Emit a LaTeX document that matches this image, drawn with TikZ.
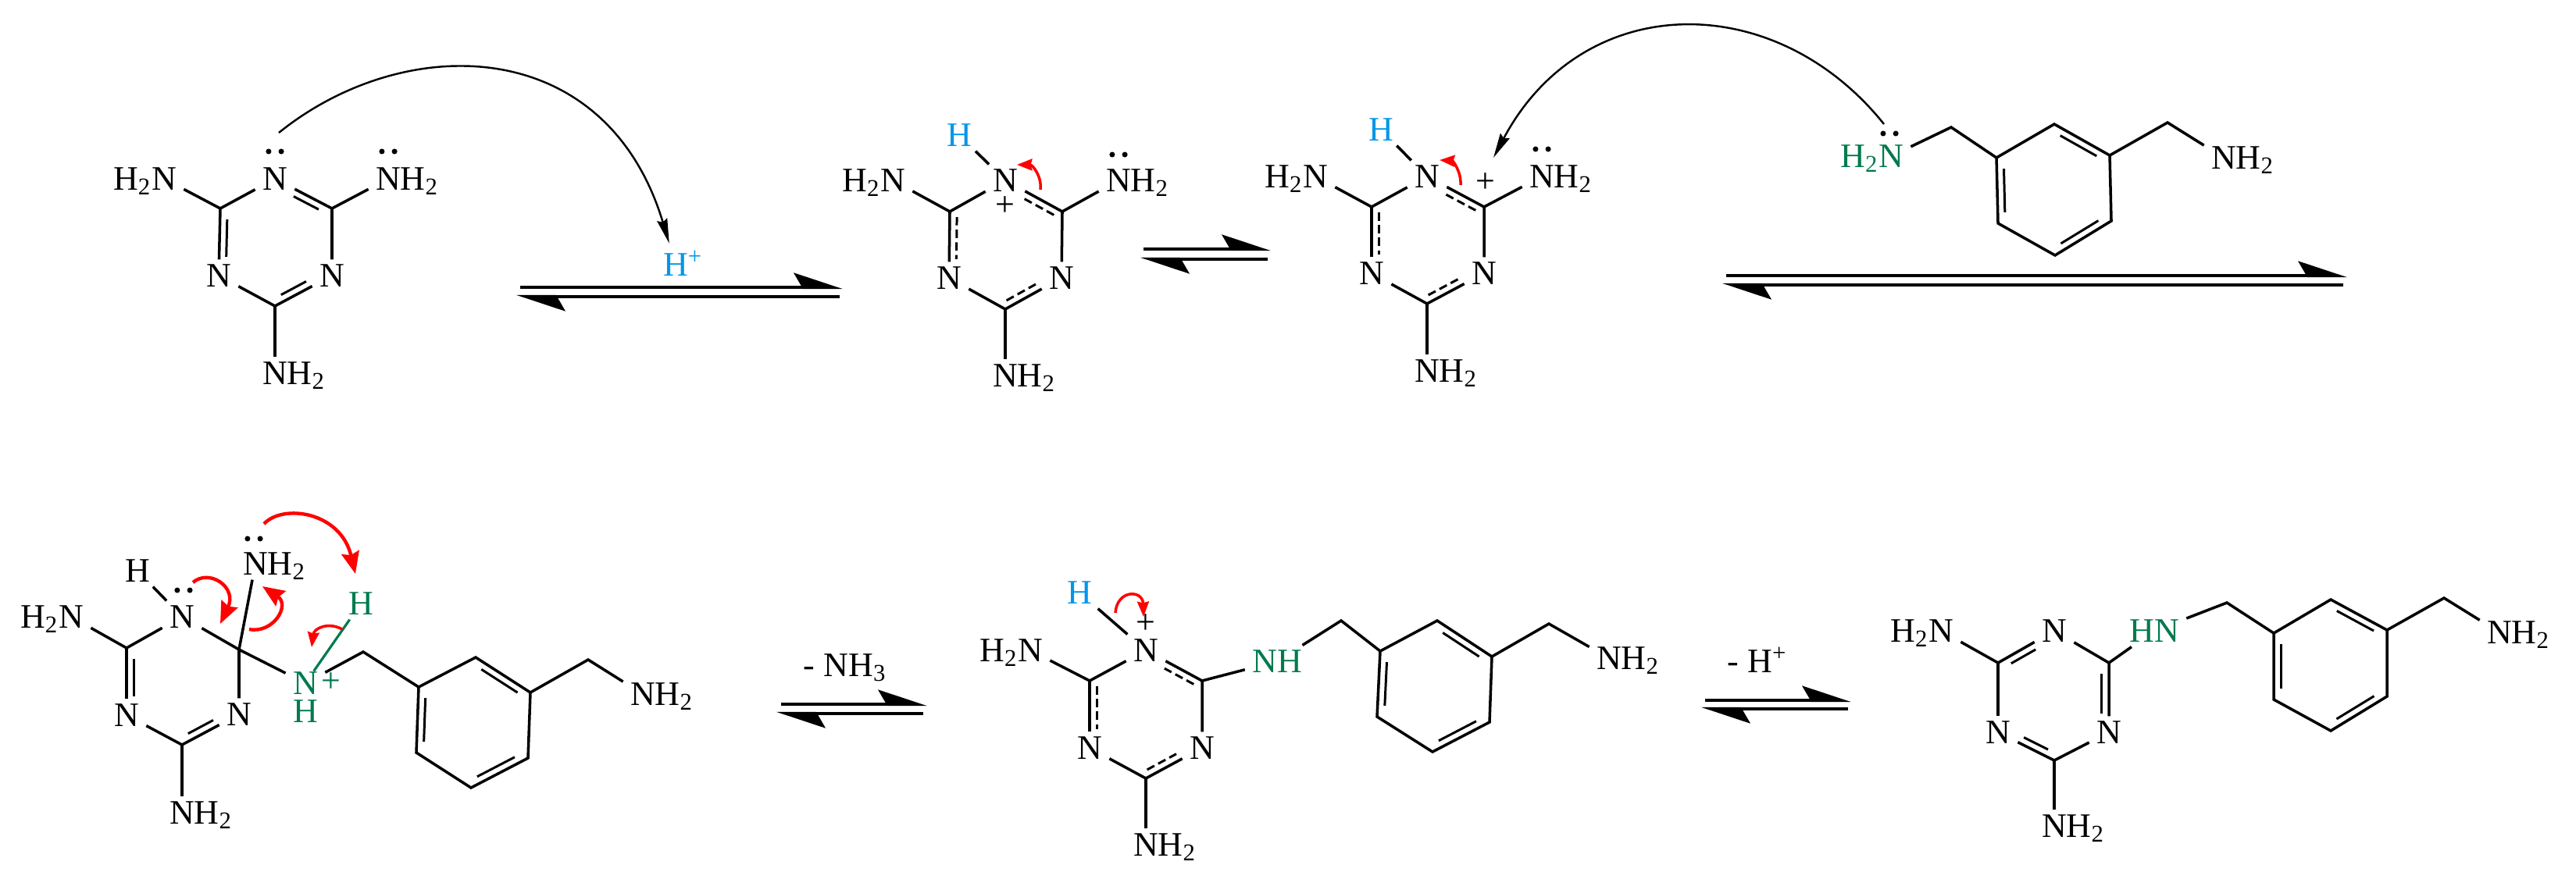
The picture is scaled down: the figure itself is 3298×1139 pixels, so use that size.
\documentclass[tikz,border=0pt]{standalone}
\usepackage{fontspec}
\setmainfont{Liberation Serif}
\usetikzlibrary{arrows.meta}
\definecolor{chemgreen}{RGB}{0,122,77}
\definecolor{chemblue}{RGB}{0,150,232}
\tikzstyle{atom} = [font=\fontsize{12.5}{15}\selectfont, inner xsep=2.5pt, inner ysep=1.5pt, text height=8.3pt, text depth=0pt]
\tikzstyle{charge} = [font=\fontsize{12.5}{15}\selectfont, inner sep=0pt]
\tikzstyle{greenatom} = [atom, text=chemgreen]
\tikzstyle{blueatom} = [atom, text=chemblue]
\tikzstyle{bond} = [line width=1pt]
\tikzstyle{greenbond} = [line width=0.9pt, draw=chemgreen]
\tikzstyle{inner} = [line width=0.85pt, shorten <=4pt, shorten >=1pt]
\tikzstyle{innerring} = [line width=0.85pt, shorten <=4pt, shorten >=4pt]
\tikzstyle{deloc} = [line width=0.85pt, dash pattern=on 3pt off 1.6pt, shorten <=2pt, shorten >=1pt]
\tikzstyle{inE} = [transform canvas={xshift=2.6pt}]
\tikzstyle{inW} = [transform canvas={xshift=-2.6pt}]
\tikzstyle{inSW} = [transform canvas={xshift=-1.3pt,yshift=-2.2pt}]
\tikzstyle{inSE} = [transform canvas={xshift=1.3pt,yshift=-2.2pt}]
\tikzstyle{inNW} = [transform canvas={xshift=-1.3pt,yshift=2.2pt}]
\tikzstyle{inNE} = [transform canvas={xshift=1.3pt,yshift=2.2pt}]
\tikzstyle{equil} = [line width=1.2pt, -{Stealth[harpoon,length=16pt,width=10.5pt,inset=3pt]}]
\tikzstyle{attack} = [line width=0.7pt, -{Stealth[length=9pt,width=3.8pt,inset=1pt]}]
\tikzstyle{redflow} = [draw=red, line width=1pt, -{Stealth[length=5.5pt,width=4.2pt,inset=0.5pt]}, red]
\tikzstyle{redbig} = [draw=red, line width=1.25pt, -{Stealth[length=8pt,width=6.5pt,inset=1pt]}, red]
\newcommand{\lonepair}[1]{\fill ([xshift=-2.3pt]#1) circle (1pt) ([xshift=2.3pt]#1) circle (1pt);}
\begin{document}
\begin{tikzpicture}[x=0.01cm, y=-0.01cm]

    \useasboundingbox (0,0) rectangle (3298,1139);

    \node (aN1) [atom] at (352,229) {N};
    \node (aN2) [atom] at (280,353) {N};
    \node (aN3) [atom] at (425,353) {N};
    \node (aH2N) [atom] at (210,229) {\llap{H\textsubscript{2}}N};
    \node (aNHr) [atom] at (497,229) {N\rlap{H\textsubscript{2}}};
    \node (aNHb) [atom] at (352,478) {N\rlap{H\textsubscript{2}}};
    \coordinate (aCl) at (282,267);
    \coordinate (aCr) at (425,267);
    \coordinate (aCb) at (352,392);
    \draw[bond] (aH2N) -- (aCl) -- (aN1);
    \draw[bond] (aN1) -- (aCr) -- (aN3);
    \draw[bond] (aCr) -- (aNHr);
    \draw[bond] (aCl) -- (aN2);
    \draw[bond] (aN2) -- (aCb) -- (aN3);
    \draw[bond] (aCb) -- (aNHb);
    \draw[inner, inSW] (aCr) -- (aN1);
    \draw[inner, inE] (aCl) -- (aN2);
    \draw[inner, inNW] (aCb) -- (aN3);
    \lonepair{352,194}
    \lonepair{497,194}

    \node (hplus) [blueatom] at (865,339) {H\rlap{\textsuperscript{+}}};
    \coordinate (aPair) at (357,170);
    \draw[attack, shorten >=2pt] (aPair) .. controls (518,40) and (776,43) .. (hplus);

    \coordinate (eqAa) at (666,368);
    \coordinate (eqAb) at (1079,368);
    \coordinate (eqAc) at (1075,380);
    \coordinate (eqAd) at (661,380);
    \draw[equil] (eqAa) -- (eqAb);
    \draw[equil] (eqAc) -- (eqAd);

    \node (bH) [blueatom] at (1228,173) {H};
    \node (bN1) [atom] at (1287,231) {N};
    \node (bN2) [atom] at (1215,356) {N};
    \node (bN3) [atom] at (1359,356) {N};
    \node (bH2N) [atom] at (1143,231) {\llap{H\textsubscript{2}}N};
    \node (bNHr) [atom] at (1432,231) {N\rlap{H\textsubscript{2}}};
    \node (bNHb) [atom] at (1287,481) {N\rlap{H\textsubscript{2}}};
    \node (bPlus) [charge] at (1287,264) {+};
    \coordinate (bCl) at (1216,271);
    \coordinate (bCr) at (1360,271);
    \coordinate (bCb) at (1287,396);
    \draw[bond] (bH) -- (bN1);
    \draw[bond] (bH2N) -- (bCl) -- (bN1);
    \draw[bond] (bN1) -- (bCr) -- (bN3);
    \draw[bond] (bCr) -- (bNHr);
    \draw[bond] (bCl) -- (bN2);
    \draw[bond] (bN2) -- (bCb) -- (bN3);
    \draw[bond] (bCb) -- (bNHb);
    \draw[deloc, inSW] (bCr) -- (bN1);
    \draw[deloc, inE] (bCl) -- (bN2);
    \draw[deloc, inNW] (bCb) -- (bN3);
    \lonepair{1432,198}
    \coordinate (bRedA) at (1332,243);
    \coordinate (bRedB) at (1302,211);
    \draw[redflow] (bRedA) .. controls (1334,226) and (1322,211) .. (bRedB);

    \coordinate (eqBa) at (1464,319);
    \coordinate (eqBb) at (1627,319);
    \coordinate (eqBc) at (1623,332);
    \coordinate (eqBd) at (1460,332);
    \draw[equil] (eqBa) -- (eqBb);
    \draw[equil] (eqBc) -- (eqBd);

    \node (cH) [blueatom] at (1768,166) {H};
    \node (cN1) [atom] at (1827,226) {N};
    \node (cN2) [atom] at (1756,350) {N};
    \node (cN3) [atom] at (1900,350) {N};
    \node (cH2N) [atom] at (1684,226) {\llap{H\textsubscript{2}}N};
    \node (cNHr) [atom] at (1974,226) {N\rlap{H\textsubscript{2}}};
    \node (cNHb) [atom] at (1827,475) {N\rlap{H\textsubscript{2}}};
    \node (cPlus) [charge] at (1902,234) {+};
    \coordinate (cCl) at (1756,265);
    \coordinate (cCr) at (1900,265);
    \coordinate (cCb) at (1827,389);
    \draw[bond] (cH) -- (cN1);
    \draw[bond] (cH2N) -- (cCl) -- (cN1);
    \draw[bond] (cN1) -- (cCr) -- (cN3);
    \draw[bond] (cCr) -- (cNHr);
    \draw[bond] (cCl) -- (cN2);
    \draw[bond] (cN2) -- (cCb) -- (cN3);
    \draw[bond] (cCb) -- (cNHb);
    \draw[deloc, inSW] (cCr) -- (cN1);
    \draw[deloc, inE] (cCl) -- (cN2);
    \draw[deloc, inNW] (cCb) -- (cN3);
    \lonepair{1974,191}
    \coordinate (cRedA) at (1870,237);
    \coordinate (cRedB) at (1843,205);
    \draw[redflow] (cRedA) .. controls (1871,220) and (1860,206) .. (cRedB);

    \node (dH2N) [greenatom] at (2421,200) {\llap{H\textsubscript{2}}N};
    \node (dNH) [atom] at (2847,202) {N\rlap{H\textsubscript{2}}};
    \coordinate (dCa) at (2498,163);
    \coordinate (dCb) at (2775,157);
    \coordinate (dR1) at (2556,202);
    \coordinate (dR2) at (2630,159);
    \coordinate (dR3) at (2701,199);
    \coordinate (dR4) at (2703,283);
    \coordinate (dR5) at (2631,327);
    \coordinate (dR6) at (2558,286);
    \draw[bond] (dH2N) -- (dCa) -- (dR1);
    \draw[bond] (dR3) -- (dCb) -- (dNH);
    \draw[bond] (dR1) -- (dR2) -- (dR3) -- (dR4) -- (dR5) -- (dR6) -- cycle;
    \draw[innerring, inSW] (dR2) -- (dR3);
    \draw[innerring, inE] (dR1) -- (dR6);
    \draw[innerring, inNW] (dR5) -- (dR4);
    \lonepair{2419,171}
    \coordinate (dPair) at (2412,159);
    \coordinate (cTip) at (1912,202);
    \draw[attack] (dPair) .. controls (2272,-16) and (2026,-13) .. (cTip);

    \coordinate (eqCa) at (2210,353);
    \coordinate (eqCb) at (3005,353);
    \coordinate (eqCc) at (3000,365);
    \coordinate (eqCd) at (2205,365);
    \draw[equil] (eqCa) -- (eqCb);
    \draw[equil] (eqCc) -- (eqCd);

    \node (eH) [atom] at (176,731) {H};
    \node (eN1) [atom] at (233,790) {N};
    \node (eN2) [atom] at (162,916) {N};
    \node (eN3) [atom] at (306,915) {N};
    \node (eH2N) [atom] at (91,790) {\llap{H\textsubscript{2}}N};
    \node (eNHb) [atom] at (233,1041) {N\rlap{H\textsubscript{2}}};
    \node (eNHt) [atom] at (327,722) {N\rlap{H\textsubscript{2}}};
    \node (eNg) [greenatom, inner ysep=0pt] at (391,875) {N};
    \node (ePlus) [charge, text=chemgreen] at (424,874) {+};
    \node (eHb) [greenatom, inner ysep=0pt] at (391,911) {H};
    \node (eHt) [greenatom] at (462,773) {H};
    \node (eNH) [atom] at (823,889) {N\rlap{H\textsubscript{2}}};
    \coordinate (eCl) at (162,830);
    \coordinate (eCr) at (306,832);
    \coordinate (eCb) at (233,954);
    \coordinate (eCa) at (465,835);
    \coordinate (eCc) at (753,845);
    \coordinate (eR1) at (536,880);
    \coordinate (eR2) at (609,842);
    \coordinate (eR3) at (679,887);
    \coordinate (eR4) at (676,971);
    \coordinate (eR5) at (603,1009);
    \coordinate (eR6) at (533,964);
    \draw[bond] (eH) -- (eN1);
    \draw[bond] (eH2N) -- (eCl) -- (eN1);
    \draw[bond] (eN1) -- (eCr) -- (eN3);
    \draw[bond] (eCr) -- (eNHt);
    \draw[bond] (eCr) -- (eNg);
    \draw[bond] (eCl) -- (eN2);
    \draw[bond] (eN2) -- (eCb) -- (eN3);
    \draw[bond] (eCb) -- (eNHb);
    \draw[greenbond] (eNg) -- (eHt);
    \draw[bond] (eNg) -- (eCa) -- (eR1);
    \draw[bond] (eR3) -- (eCc) -- (eNH);
    \draw[bond] (eR1) -- (eR2) -- (eR3) -- (eR4) -- (eR5) -- (eR6) -- cycle;
    \draw[inner, inE] (eCl) -- (eN2);
    \draw[inner, inNW] (eCb) -- (eN3);
    \draw[innerring, inSW] (eR2) -- (eR3);
    \draw[innerring, inE] (eR1) -- (eR6);
    \draw[innerring, inNW] (eR5) -- (eR4);
    \lonepair{235,756}
    \lonepair{325,690}
    \coordinate (eRedA) at (247,746);
    \coordinate (eRedB) at (282,799);
    \coordinate (eRedC) at (319,806);
    \coordinate (eRedD) at (336,751);
    \coordinate (eRedE) at (438,806);
    \coordinate (eRedF) at (399,829);
    \coordinate (eRedG) at (338,671);
    \coordinate (eRedH) at (455,735);
    \draw[redbig] (eRedA) .. controls (268,728) and (304,752) .. (eRedB);
    \draw[redbig] (eRedC) .. controls (350,812) and (372,775) .. (eRedD);
    \draw[redflow] (eRedE) .. controls (420,796) and (402,805) .. (eRedF);
    \draw[redbig] (eRedG) .. controls (362,645) and (436,655) .. (eRedH);

    \node (lossA) [atom] at (1082,852) {- NH\textsubscript{3}};
    \coordinate (eqDa) at (1000,902);
    \coordinate (eqDb) at (1187,902);
    \coordinate (eqDc) at (1182,914);
    \coordinate (eqDd) at (994,914);
    \draw[equil] (eqDa) -- (eqDb);
    \draw[equil] (eqDc) -- (eqDd);

    \node (fH) [blueatom] at (1382,759) {H};
    \node (fN1) [atom] at (1467,833) {N};
    \node (fN2) [atom] at (1395,958) {N};
    \node (fN3) [atom] at (1539,958) {N};
    \node (fH2N) [atom] at (1319,833) {\llap{H\textsubscript{2}}N};
    \node (fNHb) [atom] at (1467,1082) {N\rlap{H\textsubscript{2}}};
    \node (fPlus) [charge] at (1467,799) {+};
    \node (fNHg) [greenatom] at (1635,847) {NH};
    \node (fNH) [atom] at (2060,843) {N\rlap{H\textsubscript{2}}};
    \coordinate (fCl) at (1395,872);
    \coordinate (fCr) at (1539,872);
    \coordinate (fCb) at (1467,997);
    \coordinate (fCa) at (1717,795);
    \coordinate (fCc) at (1983,799);
    \coordinate (fR1) at (1767,834);
    \coordinate (fR2) at (1840,795);
    \coordinate (fR3) at (1910,841);
    \coordinate (fR4) at (1907,925);
    \coordinate (fR5) at (1834,963);
    \coordinate (fR6) at (1763,918);
    \draw[bond] (fH) -- (fN1);
    \draw[bond] (fH2N) -- (fCl) -- (fN1);
    \draw[bond] (fN1) -- (fCr) -- (fN3);
    \draw[bond] (fCr) -- (fNHg);
    \draw[bond] (fCl) -- (fN2);
    \draw[bond] (fN2) -- (fCb) -- (fN3);
    \draw[bond] (fCb) -- (fNHb);
    \draw[bond] (fNHg) -- (fCa) -- (fR1);
    \draw[bond] (fR3) -- (fCc) -- (fNH);
    \draw[bond] (fR1) -- (fR2) -- (fR3) -- (fR4) -- (fR5) -- (fR6) -- cycle;
    \draw[deloc, inSW] (fCr) -- (fN1);
    \draw[deloc, inE] (fCl) -- (fN2);
    \draw[deloc, inNW] (fCb) -- (fN3);
    \draw[innerring, inSW] (fR2) -- (fR3);
    \draw[innerring, inE] (fR1) -- (fR6);
    \draw[innerring, inNW] (fR5) -- (fR4);
    \coordinate (fRedA) at (1428,785);
    \coordinate (fRedB) at (1464,790);
    \draw[redflow] (fRedA) .. controls (1430,755) and (1463,755) .. (fRedB);

    \node (lossB) [atom] at (2250,847) {- H\textsuperscript{+}};
    \coordinate (eqEa) at (2183,897);
    \coordinate (eqEb) at (2370,897);
    \coordinate (eqEc) at (2366,908);
    \coordinate (eqEd) at (2178,908);
    \draw[equil] (eqEa) -- (eqEb);
    \draw[equil] (eqEc) -- (eqEd);

    \node (gN1) [atom] at (2630,808) {N};
    \node (gN2) [atom] at (2558,938) {N};
    \node (gN3) [atom] at (2700,938) {N};
    \node (gH2N) [atom] at (2485,808) {\llap{H\textsubscript{2}}N};
    \node (gNHb) [atom] at (2630,1058) {N\rlap{H\textsubscript{2}}};
    \node (gHN) [greenatom] at (2758,808) {HN};
    \node (gNH) [atom] at (3200,810) {N\rlap{H\textsubscript{2}}};
    \coordinate (gCl) at (2558,849);
    \coordinate (gCr) at (2700,849);
    \coordinate (gCb) at (2630,974);
    \coordinate (gCa) at (2851,772);
    \coordinate (gCc) at (3129,766);
    \coordinate (gR1) at (2911,811);
    \coordinate (gR2) at (2984,768);
    \coordinate (gR3) at (3056,807);
    \coordinate (gR4) at (3056,892);
    \coordinate (gR5) at (2984,936);
    \coordinate (gR6) at (2911,896);
    \draw[bond] (gH2N) -- (gCl) -- (gN1);
    \draw[bond] (gN1) -- (gCr) -- (gN3);
    \draw[bond] (gCr) -- (gHN);
    \draw[bond] (gCl) -- (gN2);
    \draw[bond] (gN2) -- (gCb) -- (gN3);
    \draw[bond] (gCb) -- (gNHb);
    \draw[bond] (gHN) -- (gCa) -- (gR1);
    \draw[bond] (gR3) -- (gCc) -- (gNH);
    \draw[bond] (gR1) -- (gR2) -- (gR3) -- (gR4) -- (gR5) -- (gR6) -- cycle;
    \draw[inner, inSE] (gCl) -- (gN1);
    \draw[inner, inW] (gCr) -- (gN3);
    \draw[inner, inNE] (gCb) -- (gN2);
    \draw[innerring, inSW] (gR2) -- (gR3);
    \draw[innerring, inE] (gR1) -- (gR6);
    \draw[innerring, inNW] (gR5) -- (gR4);

\end{tikzpicture}
\end{document}
